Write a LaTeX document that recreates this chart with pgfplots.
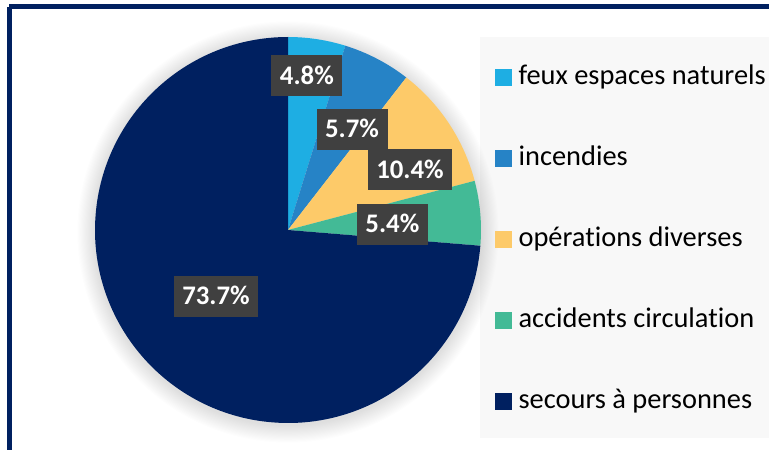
\documentclass[border=0pt]{standalone}
\usepackage{pgfplots}
\pgfplotsset{compat=1.18}
\usepackage{pgfplotstable}
\usepackage{fontspec}
\setmainfont{Carlito}[Ligatures=NoCommon]
\definecolor{cfeux}{HTML}{1EAEE3}
\definecolor{cinc}{HTML}{2683C6}
\definecolor{cops}{HTML}{FDCA69}
\definecolor{cacc}{HTML}{43BA96}
\definecolor{csec}{HTML}{002060}
\definecolor{cbox}{HTML}{404040}
\definecolor{clegbg}{HTML}{F8F8F8}

\pgfplotstableread{
name value lx ly col
feux 4.8 0.098 0.798 cfeux
incendies 5.7 0.332 0.523 cinc
operations 10.4 0.632 0.311 cops
accidents 5.4 0.541 0.028 cacc
secours 73.7 -0.373 -0.342 csec
}\piedata

\begin{document}
\begin{tikzpicture}[x=1pt,y=1pt,
  lbl/.style={fill=cbox, text=white, font=\fontsize{26.8}{30}\selectfont\bfseries,
    inner xsep=8.5pt, minimum height=41pt, text height=17.5pt, text depth=1pt}]
\useasboundingbox (0,0) rectangle (769,450);
\clip (0,0) rectangle (769,450);
% legend background
\fill[clegbg] (480,413) rectangle (769,12);
% soft shadow
\foreach \k in {1,...,16}{
  \fill[black,opacity=0.008] (288,218) circle[radius=193+\k*1.1];
}
\begin{axis}[
  at={(288pt,220pt)}, anchor=center,
  scale only axis, width=386pt, height=386pt,
  xmin=-1, xmax=1, ymin=-1, ymax=1,
  hide axis, clip=false,
  legend style={
    at={(axis description cs:1.0363,0.475)}, anchor=west,
    draw=none, fill=none, inner sep=0pt,
    font=\fontsize{28.4}{33}\selectfont,
    nodes={inner sep=0pt, text height=19pt, text depth=6pt},
    row sep=56pt,
    /tikz/column 1/.style={column sep=7pt},
  },
  legend cell align=left,
  legend image code/.code={\fill[#1] (0pt,-8pt) rectangle (16pt,8pt);},
]
\def\startang{90}
\pgfplotsforeachungrouped \i in {0,...,4}{%
  \pgfplotstablegetelem{\i}{value}\of\piedata \let\val\pgfplotsretval
  \pgfplotstablegetelem{\i}{col}\of\piedata \let\col\pgfplotsretval
  \pgfmathsetmacro\endang{\startang-3.6*\val}%
  \edef\tmp{\noexpand\fill[\col] (axis cs:0,0) -- (axis cs:{cos(\startang)},{sin(\startang)}) arc[start angle=\startang,end angle=\endang,radius=193pt] -- cycle;}%
  \tmp
  \global\let\startang\endang
}
\pgfplotsforeachungrouped \i in {0,...,4}{%
  \pgfplotstablegetelem{\i}{value}\of\piedata \let\val\pgfplotsretval
  \pgfplotstablegetelem{\i}{lx}\of\piedata \let\lx\pgfplotsretval
  \pgfplotstablegetelem{\i}{ly}\of\piedata \let\ly\pgfplotsretval
  \edef\tmp{\noexpand\node[lbl] at (axis cs:\lx,\ly) {\val\noexpand\%};}%
  \tmp
}
\addlegendimage{cfeux}\addlegendentry{feux espaces naturels}
\addlegendimage{cinc}\addlegendentry{incendies}
\addlegendimage{cops}\addlegendentry{opérations diverses}
\addlegendimage{cacc}\addlegendentry{accidents circulation}
\addlegendimage{csec}\addlegendentry{secours à personnes}
\end{axis}
% frame
\draw[csec, line width=4.6pt] (9.2,443.2) -- (800,443.2);
\draw[csec, line width=4.6pt] (9.2,443.2) -- (9.2,-20);
\end{tikzpicture}
\end{document}
